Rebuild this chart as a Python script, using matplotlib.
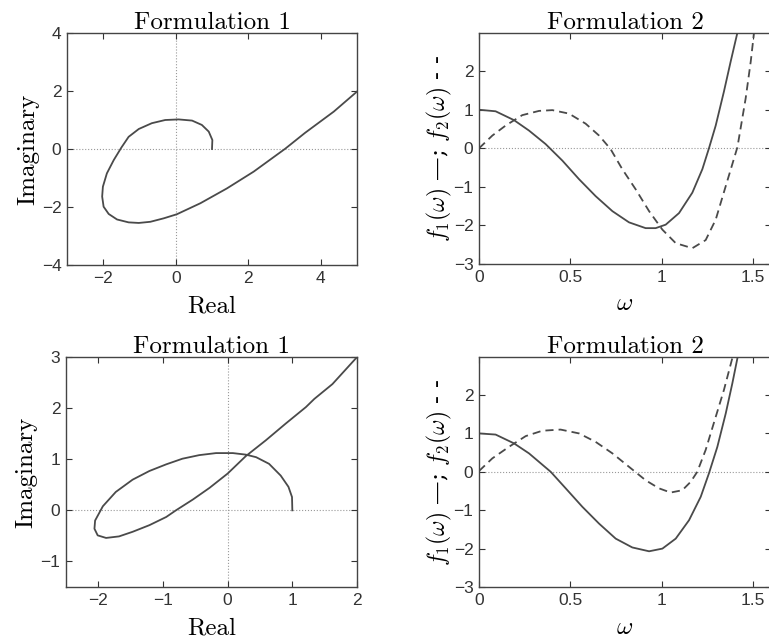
import matplotlib
matplotlib.use("Agg")
import matplotlib.pyplot as plt

# Data
# Formulation 1, top: Nyquist-style locus
re_top = [1.0, 1.01, 0.91, 0.72, 0.45, 0.08, -0.29, -0.66, -1.02, -1.30, -1.50,
          -1.71, -1.90, -2.01, -2.03, -1.99, -1.85, -1.62, -1.30, -1.02, -0.70,
          -0.33, 0.03, 0.68, 1.41, 2.15, 3.02, 3.57, 4.36, 5.0, 5.3]
im_top = [0.0, 0.31, 0.60, 0.83, 0.98, 1.02, 1.0, 0.89, 0.69, 0.42, 0.05,
          -0.38, -0.84, -1.30, -1.64, -1.99, -2.24, -2.43, -2.53, -2.55, -2.51,
          -2.39, -2.25, -1.87, -1.36, -0.78, 0.01, 0.56, 1.29, 1.98, 2.33]

# Formulation 2, top
w_f1_top = [0.0, 0.091, 0.192, 0.274, 0.365, 0.457, 0.548, 0.639, 0.731, 0.822,
            0.913, 0.968, 1.023, 1.096, 1.169, 1.224, 1.26, 1.297, 1.342, 1.379,
            1.416, 1.434]
f1_top = [1.0, 0.96, 0.73, 0.46, 0.11, -0.32, -0.80, -1.24, -1.63, -1.92,
          -2.07, -2.07, -1.98, -1.68, -1.15, -0.54, 0.0, 0.59, 1.47, 2.25,
          3.0, 3.39]
w_f2_top = [0.0, 0.073, 0.146, 0.237, 0.329, 0.402, 0.493, 0.584, 0.658, 0.721,
            0.785, 0.858, 0.932, 1.005, 1.078, 1.169, 1.242, 1.297, 1.352, 1.416,
            1.461, 1.489, 1.507, 1.516]
f2_top = [0.0, 0.33, 0.59, 0.86, 0.97, 0.99, 0.90, 0.64, 0.33, -0.02,
          -0.54, -1.06, -1.63, -2.11, -2.46, -2.59, -2.38, -1.85, -0.98, 0.03,
          1.29, 2.25, 3.0, 3.39]

# Formulation 1, bottom
re_bot = [1.0, 0.995, 0.94, 0.82, 0.64, 0.44, 0.28, 0.08, -0.18, -0.44, -0.70,
          -0.95, -1.21, -1.47, -1.73, -1.93, -2.05, -2.06, -2.01, -1.88, -1.68,
          -1.47, -1.21, -0.95, -0.80, -0.54, -0.28, 0.0, 0.28, 0.59, 0.90,
          1.21, 1.34, 1.62, 1.98, 2.2]
im_bot = [0.0, 0.26, 0.46, 0.68, 0.91, 1.04, 1.09, 1.12, 1.12, 1.08, 1.01,
          0.90, 0.77, 0.60, 0.36, 0.08, -0.20, -0.36, -0.49, -0.54, -0.51,
          -0.42, -0.29, -0.13, 0.0, 0.21, 0.44, 0.72, 1.06, 1.37, 1.70,
          2.02, 2.18, 2.47, 2.97, 3.25]

# Formulation 2, bottom
w_f1_bot = [0.0, 0.091, 0.192, 0.274, 0.393, 0.475, 0.566, 0.658, 0.749, 0.84,
            0.932, 1.005, 1.078, 1.151, 1.215, 1.26, 1.306, 1.352, 1.388, 1.416,
            1.432]
f1_bot = [1.0, 0.97, 0.74, 0.48, 0.0, -0.43, -0.91, -1.35, -1.74, -1.97,
          -2.07, -2.0, -1.74, -1.26, -0.65, -0.04, 0.65, 1.52, 2.30, 2.96,
          3.4]
w_f2_bot = [0.0, 0.073, 0.164, 0.256, 0.347, 0.447, 0.548, 0.639, 0.731, 0.822,
            0.913, 0.986, 1.05, 1.114, 1.16, 1.196, 1.242, 1.297, 1.342, 1.388,
            1.40]
f2_bot = [0.02, 0.35, 0.65, 0.93, 1.07, 1.10, 1.0, 0.78, 0.48, 0.13,
          -0.22, -0.43, -0.54, -0.48, -0.26, 0.0, 0.57, 1.43, 2.13, 2.96,
          3.4]

LINE = "#4a4a4a"
SERIF = ["cmr10", "DejaVu Serif"]
plt.rcParams["mathtext.fontset"] = "cm"
plt.rcParams["font.family"] = ["Liberation Sans", "DejaVu Sans"]
plt.rcParams["font.size"] = 12.5

W, H = 769, 644
fig = plt.figure(figsize=(W / 100, H / 100), dpi=100)


def box(x0, y0, x1, y1):
    # pixel box (top-left origin) to figure fraction
    return [x0 / W, 1 - y1 / H, (x1 - x0) / W, (y1 - y0) / H]


def style(ax):
    ax.tick_params(direction="in", top=True, right=True, length=4,
                   colors="#333333", labelsize=12.5, pad=4)
    for s in ax.spines.values():
        s.set_color("#444444")
        s.set_linewidth(1.0)
    ax.axhline(0, color="#999999", ls=":", lw=0.8, zorder=0)


def nyquist(ax, re, im, xlim, ylim, xticks, yticks):
    ax.plot(re, im, color=LINE, lw=1.3)
    ax.axvline(0, color="#999999", ls=":", lw=0.8, zorder=0)
    style(ax)
    ax.set_xlim(*xlim)
    ax.set_ylim(*ylim)
    ax.set_xticks(xticks)
    ax.set_yticks(yticks)
    ax.set_title("Formulation 1", family=SERIF, fontsize=18, pad=3)
    ax.set_xlabel("Real", family=SERIF, fontsize=18, labelpad=7)
    ax.set_ylabel("Imaginary", family=SERIF, fontsize=18, labelpad=2)


def freq(ax, w1, f1, w2, f2):
    ax.plot(w1, f1, color=LINE, lw=1.3)
    ax.plot(w2, f2, color=LINE, lw=1.3, ls=(0, (4.5, 2.8)))
    style(ax)
    ax.set_xlim(0, 1.6)
    ax.set_ylim(-3, 2.99)
    ax.set_xticks([0, 0.5, 1, 1.5])
    ax.set_xticklabels(["0", "0.5", "1", "1.5"])
    ax.set_yticks([-3, -2, -1, 0, 1, 2])
    ax.set_title("Formulation 2", family=SERIF, fontsize=18, pad=3)
    ax.set_xlabel(r"$\omega$", fontsize=18, labelpad=5)
    ax.set_ylabel(r"$f_1(\omega)$ —; $f_2(\omega)$ - -", family="DejaVu Serif",
                  fontsize=17, labelpad=0)


ax1 = fig.add_axes(box(67, 33, 357, 265))
nyquist(ax1, re_top, im_top, (-3, 5), (-4, 4), [-2, 0, 2, 4], [-4, -2, 0, 2, 4])

ax2 = fig.add_axes(box(479, 33, 771, 264))
freq(ax2, w_f1_top, f1_top, w_f2_top, f2_top)

ax3 = fig.add_axes(box(66, 357, 357, 587))
nyquist(ax3, re_bot, im_bot, (-2.5, 2), (-1.5, 3), [-2, -1, 0, 1, 2], [-1, 0, 1, 2, 3])

ax4 = fig.add_axes(box(479, 357, 771, 587))
freq(ax4, w_f1_bot, f1_bot, w_f2_bot, f2_bot)

fig.savefig("out.png", dpi=100)
